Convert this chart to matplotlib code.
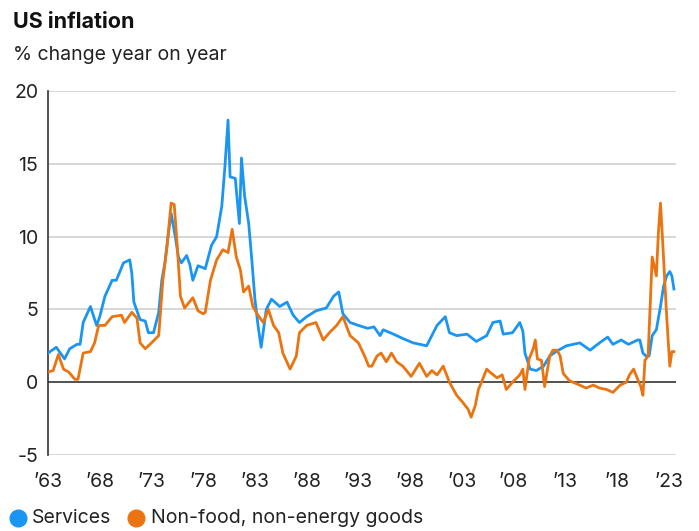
import matplotlib
matplotlib.use("Agg")
import matplotlib.pyplot as plt
from matplotlib.lines import Line2D

plt.rcParams['font.family'] = ['Inter', 'DejaVu Sans']

title = "US inflation"
subtitle = "% change year on year"
series_names = ["Services", "Non-food, non-energy goods"]
colors = ["#1a96f2", "#ea7410"]

services_t = [1963.0, 1963.8, 1964.6, 1965.1, 1965.8, 1966.1, 1966.4, 1967.1, 1967.7, 1968.0, 1968.5,
              1969.2, 1969.6, 1970.3, 1970.9, 1971.1, 1971.3, 1971.9, 1972.4, 1972.7, 1973.2, 1973.7,
              1974.0, 1974.3, 1974.6, 1974.9, 1975.3, 1975.6, 1975.9, 1976.4, 1976.7, 1977.0, 1977.5,
              1978.2, 1978.8, 1979.3, 1979.8,
              1980.1, 1980.4, 1980.6, 1981.1, 1981.5, 1981.7, 1982.0, 1982.4, 1982.7, 1983.0, 1983.3,
              1983.6, 1984.1, 1984.6, 1985.4, 1986.1, 1986.7, 1987.3, 1988.0, 1988.9, 1989.9, 1990.6,
              1991.1, 1991.5, 1992.2, 1993.0, 1993.9, 1994.5, 1995.1, 1995.4, 1996.4, 1997.3, 1998.3,
              1999.6, 2000.6, 2001.4, 2001.8, 2002.5, 2003.5, 2004.4, 2005.4, 2006.0, 2006.7, 2007.0,
              2007.9, 2008.6, 2008.9, 2009.1, 2009.6, 2010.2, 2010.9, 2011.5, 2012.1, 2013.1, 2014.4,
              2015.4, 2016.3, 2017.1, 2017.6, 2018.4, 2019.1, 2020.0, 2020.2, 2020.5, 2020.8, 2021.1,
              2021.4, 2021.8, 2022.2, 2022.5, 2022.8, 2023.1, 2023.3, 2023.5]
services_v = [2.0, 2.4, 1.6, 2.3, 2.6, 2.6, 4.1, 5.2, 3.9, 4.5, 5.9,
              7.0, 7.0, 8.2, 8.4, 7.5, 5.5, 4.3, 4.2, 3.4, 3.4, 4.8,
              7.0, 8.2, 10.0, 11.6, 10.0, 8.6, 8.2, 8.7, 8.1, 7.0, 8.0,
              7.8, 9.4, 10.0, 12.1,
              14.8, 18.0, 14.1, 14.0, 10.9, 15.4, 12.8, 10.9, 8.4, 5.7, 3.9,
              2.4, 5.0, 5.7, 5.2, 5.5, 4.6, 4.1, 4.5, 4.9, 5.1, 5.9,
              6.2, 4.7, 4.1, 3.9, 3.7, 3.8, 3.2, 3.6, 3.3, 3.0, 2.7,
              2.5, 3.9, 4.5, 3.4, 3.2, 3.3, 2.8, 3.2, 4.1, 4.2, 3.3,
              3.4, 4.1, 3.5, 2.0, 0.9, 0.8, 1.1, 1.8, 2.1, 2.5, 2.7,
              2.2, 2.7, 3.1, 2.6, 2.9, 2.6, 2.9, 2.9, 2.0, 1.8, 1.8,
              3.2, 3.6, 5.2, 6.6, 7.3, 7.6, 7.3, 6.4]

goods_t = [1963.0, 1963.5, 1964.0, 1964.5, 1965.0, 1965.6, 1965.9, 1966.4, 1967.1, 1967.5, 1967.9,
           1968.5, 1969.2, 1970.1, 1970.4, 1971.1, 1971.6, 1971.9, 1972.4, 1973.0, 1973.7, 1974.1,
           1974.5, 1974.9, 1975.2, 1975.5, 1975.8, 1976.2, 1977.0, 1977.5, 1978.0, 1978.2, 1978.7,
           1979.3, 1979.9,
           1980.4, 1980.8, 1981.2, 1981.6, 1981.9, 1982.4, 1982.8, 1983.3, 1983.8, 1984.3, 1984.8,
           1985.3, 1985.7, 1986.4, 1987.0, 1987.3, 1988.0, 1988.9, 1989.6, 1990.2, 1990.9, 1991.5,
           1992.2, 1993.0, 1993.6, 1994.0, 1994.3, 1994.8, 1995.2, 1995.7, 1996.2, 1996.7, 1997.3,
           1998.1, 1998.9, 1999.6, 2000.1, 2000.6, 2001.2, 2001.8, 2002.5, 2003.1, 2003.6, 2003.9,
           2004.3, 2004.6, 2004.9, 2005.4, 2005.7, 2006.4, 2006.9, 2007.3, 2007.9, 2008.6, 2008.9,
           2009.1, 2009.5, 2009.9, 2010.1, 2010.3, 2010.7, 2011.0, 2011.5, 2011.8, 2012.2, 2012.5,
           2012.8, 2013.4, 2014.4, 2015.0, 2015.7, 2016.3, 2017.0, 2017.6, 2018.3, 2018.9, 2019.2,
           2019.6, 2020.0, 2020.3, 2020.5, 2020.7, 2021.0, 2021.4, 2021.8, 2022.0, 2022.2, 2022.4,
           2022.6, 2022.8, 2023.0, 2023.1, 2023.3, 2023.5]
goods_v = [0.7, 0.8, 1.9, 0.9, 0.7, 0.2, 0.2, 2.0, 2.1, 2.7, 3.9,
           3.9, 4.5, 4.6, 4.1, 4.8, 4.4, 2.7, 2.3, 2.7, 3.2, 7.0,
           9.3, 12.3, 12.2, 9.3, 5.9, 5.1, 5.8, 4.9, 4.7, 4.8, 7.0,
           8.4, 9.1,
           8.9, 10.5, 8.6, 7.7, 6.2, 6.6, 5.2, 4.6, 4.1, 5.0, 3.9,
           3.4, 2.0, 0.9, 1.8, 3.4, 3.9, 4.1, 2.9, 3.4, 3.9, 4.5,
           3.2, 2.7, 1.8, 1.1, 1.1, 1.8, 2.0, 1.4, 2.0, 1.4, 1.1,
           0.4, 1.3, 0.4, 0.8, 0.5, 1.1, 0.0, -0.9, -1.4, -1.85, -2.4,
           -1.6, -0.5, 0.0, 0.9, 0.7, 0.3, 0.5, -0.5, 0.0, 0.5, 0.9,
           -0.5, 1.6, 2.3, 2.9, 1.6, 1.5, -0.3, 1.8, 2.2, 2.2, 1.8,
           0.6, 0.1, -0.2, -0.4, -0.2, -0.4, -0.5, -0.7, -0.2, 0.0, 0.5,
           0.9, 0.2, -0.3, -0.9, 1.5, 1.8, 8.6, 7.3, 10.3, 12.3, 9.8,
           7.1, 4.5, 2.3, 1.1, 2.1, 2.1]

y_ticks = [-5, 0, 5, 10, 15, 20]
x_ticks = [1963, 1968, 1973, 1978, 1983, 1988, 1993, 1998, 2003, 2008, 2013, 2018, 2023]
x_labels = ["\u201963", "\u201968", "\u201973", "\u201978", "\u201983", "\u201988", "\u201993",
            "\u201998", "\u201903", "\u201908", "\u201913", "\u201918", "\u201923"]

W, H = 699, 531
fig = plt.figure(figsize=(W / 100, H / 100), dpi=100)
ax = fig.add_axes([48 / W, 1 - 455 / H, (676 - 48) / W, (455 - 91) / H])

for yv in y_ticks:
    if yv == 0:
        continue
    ax.axhline(yv, color="#cfcfcf", lw=1.2, zorder=0)
ax.axhline(0, color="#333333", lw=1.2, zorder=1)

ax.plot(services_t, services_v, color=colors[0], lw=2.0, zorder=3, solid_joinstyle='round')
ax.plot(goods_t, goods_v, color=colors[1], lw=2.0, zorder=4, solid_joinstyle='round')

ax.set_xlim(1963, 2023.7)
ax.set_ylim(-5, 20)
ax.set_yticks(y_ticks)
ax.set_yticklabels([str(v) for v in y_ticks])
ax.set_xticks(x_ticks)
ax.set_xticklabels(x_labels)
ax.tick_params(axis='both', length=0, labelsize=14, colors="#222222")
ax.tick_params(axis='y', pad=7)
ax.tick_params(axis='x', pad=13)
for s in ["top", "right", "bottom"]:
    ax.spines[s].set_visible(False)
ax.spines["left"].set_color("#333333")
ax.spines["left"].set_linewidth(1.2)

fig.text(13 / W, 1 - 22 / H, title, fontsize=15.5, fontweight="bold", va="center", ha="left", color="#111111")
fig.text(13 / W, 1 - 55 / H, subtitle, fontsize=14, va="center", ha="left", color="#222222")

# legend: circle markers and labels
leg_y = 1 - 518 / H
marker_x = [18 / W, 136 / W]
text_x = [32 / W, 151 / W]
for mx, tx, c, name in zip(marker_x, text_x, colors, series_names):
    fig.add_artist(Line2D([mx], [leg_y], marker='o', ls='none', color=c, markersize=12,
                          transform=fig.transFigure))
    fig.text(tx, leg_y, name, fontsize=14, va="center", ha="left", color="#222222")

fig.savefig("out.png", dpi=100)
